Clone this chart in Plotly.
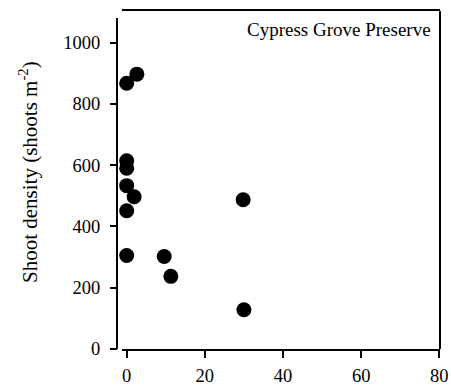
import plotly.graph_objects as go

# Shoot density at Cypress Grove Preserve
x_vals = [0, 2.6, 0, 0, 0, 1.9, 0, 29.8, 0, 9.6, 11.3, 30.0]
y_vals = [867, 897, 614, 590, 533, 497, 451, 487, 305, 302, 237, 128]

x_ticks = [0, 20, 40, 60, 80]
y_ticks = [0, 200, 400, 600, 800, 1000]

W, H = 451, 388
ML, MR, MT, MB = 117, 11, 11, 39
area_w = W - ML - MR
area_h = H - MT - MB
FONT = "Liberation Serif, Times New Roman, serif"

fig = go.Figure(
    go.Scatter(
        x=x_vals, y=y_vals, mode="markers",
        marker=dict(size=15, color="black", line=dict(width=0)),
        cliponaxis=False, showlegend=False,
    )
)

# x domain starts a few pixels right of the y-axis, leaving a gap at the corner
x_start = 5 / area_w

fig.update_layout(
    width=W, height=H,
    margin=dict(l=ML, r=MR, t=MT, b=MB, pad=0),
    paper_bgcolor="white", plot_bgcolor="white",
    font=dict(family=FONT, size=18.5, color="black"),
    xaxis=dict(
        domain=[x_start, 1], automargin=False,
        range=[-1.2, 80.17], tickvals=x_ticks, showgrid=False, zeroline=False,
        showline=True, linecolor="black", linewidth=2, mirror=True,
        ticks="outside", ticklen=7, tickwidth=1.5, tickcolor="black",
        ticklabelstandoff=2,
    ),
    yaxis=dict(
        automargin=False,
        range=[0, 1103], tickvals=y_ticks, showgrid=False, zeroline=False,
        anchor="free", position=0, showline=False,
        ticks="outside", ticklen=7, tickwidth=1.5, tickcolor="black",
        ticklabelstandoff=6,
    ),
    shapes=[
        # y-axis line
        dict(type="line", xref="paper", yref="y", x0=0, x1=0,
             y0=0, y1=1080, line=dict(color="black", width=2)),
        # right frame line
        dict(type="line", xref="paper", yref="paper", x0=1, x1=1,
             y0=0, y1=1, line=dict(color="black", width=2)),
    ],
    annotations=[
        dict(text="Cypress Grove Preserve", xref="paper", yref="paper",
             x=1, y=0.945, xanchor="right", yanchor="middle", xshift=-7,
             showarrow=False, font=dict(size=19)),
        # y-axis title
        dict(text="Shoot density (shoots m<sup>-2</sup>)", xref="paper", yref="paper",
             x=(28 - ML) / area_w, y=(H - MB - 172) / area_h,
             xanchor="center", yanchor="middle", textangle=-90,
             showarrow=False, font=dict(size=21)),
    ],
)

fig.write_html("out.html")
